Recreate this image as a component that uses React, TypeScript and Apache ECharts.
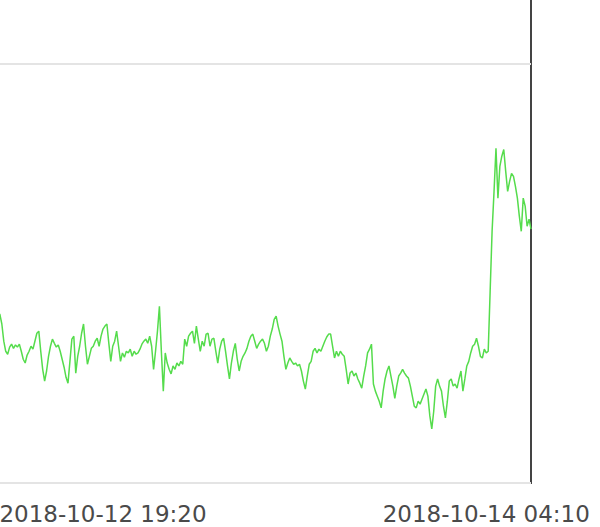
import React, { useEffect, useRef } from "react";
import * as echarts from "echarts";

// Time axis: 10-minute samples starting 2018-10-12 10:10
const startTime = Date.UTC(2018, 9, 12, 10, 10);
const stepMinutes = 10;
const labelledTimes = ["2018-10-12 19:20", "2018-10-14 04:10"];

// y-axis ticks
const yMin = 0;
const yMax = 120;
const yInterval = 100;

// Series values, split in segments
const seg1 = [
  39.0, 40.5, 40.2, 37.9, 33.8, 31.4, 30.7, 32.4, 33.1, 32.1,
  32.9, 32.4, 33.1, 31.4, 29.5, 28.6, 30.5, 31.4, 32.6, 31.9,
  33.8, 35.7, 36.2, 31.4, 27.1, 24.3, 26.7, 30.2, 32.6, 34.3,
  33.3, 32.4, 32.9, 31.4, 29.5, 27.6, 25.2, 23.8, 29.0, 34.3,
  35.0, 26.2, 30.2, 32.6, 35.7, 37.9, 32.6, 28.3, 30.2, 32.1,
  32.6, 33.8, 34.5, 32.6, 35.0, 36.7, 37.4, 37.9, 33.3, 29.0,
];
const seg2 = [
  32.6, 33.8, 36.2, 32.6, 29.0, 31.0, 30.0, 31.4, 31.0, 31.9,
  30.2, 31.4, 30.7, 31.0, 31.9, 33.1, 33.8, 34.3, 33.3, 35.0,
  32.6, 27.1, 31.4, 36.2, 42.1, 31.4, 21.9, 31.0, 28.6, 27.1,
  26.0, 27.9, 27.1, 28.6, 27.9, 29.0, 28.3, 34.3, 32.6, 35.0,
  35.7, 36.2, 33.3, 37.4, 34.3, 31.4, 33.8, 32.6, 35.5, 35.7,
  32.6, 34.3, 34.5, 31.4, 28.6, 31.9, 33.8, 34.5, 31.4, 27.9,
];
const seg3 = [
  24.8, 28.6, 31.4, 33.3, 29.5, 26.7, 29.0, 30.2, 31.0, 32.1,
  33.8, 35.0, 35.5, 33.8, 32.1, 33.1, 33.8, 34.3, 33.3, 31.4,
  32.6, 35.0, 36.7, 39.0, 39.8, 37.4, 35.5, 33.8, 30.2, 27.1,
  28.6, 29.8, 29.0, 28.3, 28.6, 27.9, 28.3, 26.7, 24.3, 22.4,
  25.5, 28.3, 29.0, 31.4, 32.1, 31.0, 31.9, 31.4, 32.6, 33.8,
  34.8, 35.5, 35.5, 32.6, 29.8, 31.4, 30.2, 31.4, 30.7, 30.2,
];
const seg4 = [
  27.1, 23.6, 26.2, 26.7, 25.5, 26.2, 24.8, 23.8, 22.6, 25.5,
  27.9, 31.0, 31.9, 33.1, 23.6, 21.9, 20.7, 19.5, 17.9, 21.9,
  24.8, 26.7, 27.9, 25.5, 23.1, 20.2, 23.1, 25.5, 26.2, 27.1,
  26.2, 25.5, 25.0, 23.1, 20.7, 18.3, 17.9, 19.5, 18.8, 20.0,
  21.2, 22.4, 20.7, 16.0, 12.9, 17.1, 23.1, 24.8, 23.1, 21.9,
  18.3, 15.5, 19.5, 24.3, 24.8, 23.1, 23.6, 22.6, 24.8, 26.7,
];
const seg5 = [
  21.9, 24.8, 27.9, 29.0, 31.0, 32.6, 33.1, 34.5, 32.6, 30.2,
  29.8, 31.9, 31.0, 31.4, 45.7, 60.0, 69.5, 79.8, 67.9, 75.5,
  77.9, 79.5, 74.3, 69.5, 71.9, 73.8, 73.1, 70.7, 67.9, 63.6,
  60.0, 67.9, 66.0, 61.2, 62.9, 60.5,
];
const values = [...seg1, ...seg2, ...seg3, ...seg4, ...seg5];

const pad = (n: number) => (n < 10 ? "0" + n : "" + n);
const categories = values.map((_, i) => {
  const d = new Date(startTime + i * stepMinutes * 60000);
  return (
    d.getUTCFullYear() + "-" + pad(d.getUTCMonth() + 1) + "-" + pad(d.getUTCDate()) +
    " " + pad(d.getUTCHours()) + ":" + pad(d.getUTCMinutes())
  );
});

export default function App() {
  const ref = useRef<HTMLDivElement>(null);
  useEffect(() => {
    document.body.style.margin = "0";
    const chart = echarts.init(ref.current!, null, { renderer: "svg" });
    chart.setOption({
      animation: false,
      backgroundColor: "#ffffff",
      grid: {
        show: true,
        left: 36,
        right: 109,
        top: 19.6,
        bottom: 44,
        borderColor: "#444444",
        borderWidth: 2,
        backgroundColor: "transparent",
      },
      xAxis: {
        type: "category",
        data: categories,
        boundaryGap: false,
        axisLine: { show: false },
        axisTick: { show: false },
        splitLine: { show: false },
        axisLabel: {
          interval: (_i: number, v: string) => labelledTimes.includes(v),
          color: "#4a4a4a",
          fontSize: 23,
          fontFamily: "DejaVu Sans",
          margin: 19,
        },
      },
      yAxis: {
        type: "value",
        min: yMin,
        max: yMax,
        interval: yInterval,
        axisLine: { show: false },
        axisTick: { show: false },
        axisLabel: { show: false },
        splitLine: { show: true, lineStyle: { color: "#e4e4e4", width: 2 } },
      },
      series: [
        {
          type: "line",
          data: values,
          showSymbol: false,
          lineStyle: { color: "#55dc4c", width: 1.5 },
          itemStyle: { color: "#55dc4c" },
        },
      ],
    });
    return () => chart.dispose();
  }, []);
  return (
    <div style={{ position: "fixed", left: 0, top: 0, width: 600, height: 527, overflow: "hidden", background: "#fff" }}>
      <div ref={ref} style={{ position: "absolute", left: -40, top: -40, width: 680, height: 567 }} />
    </div>
  );
}
